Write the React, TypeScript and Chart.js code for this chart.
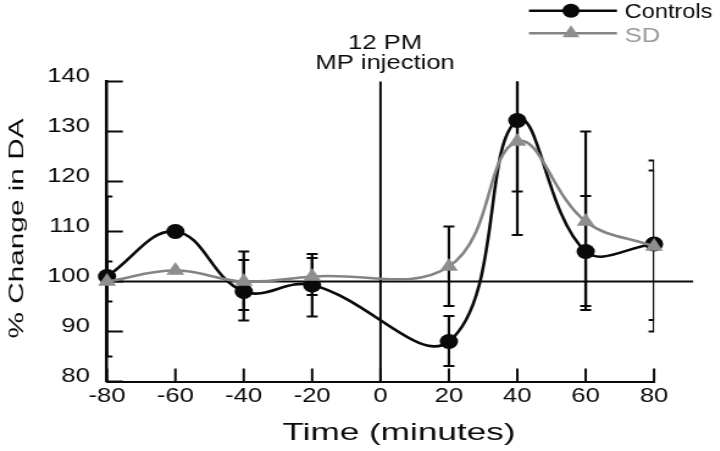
import React, { useEffect, useRef } from 'react';
import { Chart, registerables } from 'chart.js';

Chart.register(...registerables);

// ---- data ----
const timePoints = [-80, -60, -40, -20, 20, 40, 60, 80];
const controlsValues = [101, 110, 98, 99.3, 88, 132.2, 106, 107.5];
const controlsLow = [85, null, 92.2, 93, 83.1, 118, 95.1, 90];
const controlsHigh = [117, null, 106, 105.5, 93.1, 146, 117.1, 124.2];
const sdValues = [100, 102.2, 100, 101, 103, 128, 112, 107];
const sdLow = [96, null, 94.3, 97.3, 95.1, 109.3, 94.3, 92.3];
const sdHigh = [104, null, 104.3, 104.7, 111, 147, 130, 122.2];
const baselineValue = 100;
const injectionTime = 0;
const seriesNames = ['Controls', 'SD'];
const annotationLines = ['12 PM', 'MP injection'];
const xTitle = 'Time (minutes)';
const yTitle = '% Change in DA';

// ---- layout (internal canvas coordinates; canvas is stretched horizontally) ----
const STRETCH = 1.22;
const W = 590;
const H = 451;
const FONT = '"Liberation Sans", Arial, Helvetica, sans-serif';
const BLACK = '#0a0a0a';
const GREY_LINE = '#848484';
const GREY_MARK = '#8e8e8e';
const GREY_TEXT = '#9a9a9a';

function drawText(ctx: CanvasRenderingContext2D, text: string, x: number, y: number, size: number, k: number, color: string, rotate = 0, align: CanvasTextAlign = 'center') {
  ctx.save();
  ctx.translate(x, y);
  if (rotate) ctx.rotate(rotate);
  ctx.scale(k, 1);
  ctx.font = `${size}px ${FONT}`;
  ctx.fillStyle = color;
  ctx.textAlign = align;
  ctx.textBaseline = 'alphabetic';
  ctx.fillText(text, 0, 0);
  ctx.restore();
}

function line(ctx: CanvasRenderingContext2D, x1: number, y1: number, x2: number, y2: number) {
  ctx.beginPath();
  ctx.moveTo(x1, y1);
  ctx.lineTo(x2, y2);
  ctx.stroke();
}

const decorPlugin = {
  id: 'decor',
  beforeDatasetsDraw(chart: any) {
    const { ctx, chartArea: ca, scales } = chart;
    const x = scales.x;
    const y = scales.y;
    ctx.save();
    ctx.strokeStyle = BLACK;
    ctx.lineCap = 'butt';
    // baseline at 100
    ctx.lineWidth = 2;
    const y100 = y.getPixelForValue(baselineValue);
    line(ctx, ca.left, y100, ca.right + 32, y100);
    // injection marker
    const x0 = x.getPixelForValue(injectionTime);
    ctx.lineWidth = 2;
    line(ctx, x0, ca.top, x0, ca.bottom);
    // inward tick marks
    ctx.lineWidth = 2;
    y.ticks.forEach((t: any) => {
      const py = y.getPixelForValue(t.value);
      line(ctx, ca.left, py, ca.left + 13, py);
    });
    x.ticks.forEach((t: any) => {
      const px = x.getPixelForValue(t.value);
      line(ctx, px, ca.bottom, px, ca.bottom - 13);
    });
    // error bars (clipped to plot area)
    ctx.beginPath();
    ctx.rect(ca.left, ca.top, ca.right - ca.left, ca.bottom - ca.top);
    ctx.clip();
    const cap = 4.5;
    const drawBars = (lo: (number | null)[], hi: (number | null)[]) => {
      timePoints.forEach((t, i) => {
        const l = lo[i];
        const h = hi[i];
        if (l == null || h == null) return;
        const px = x.getPixelForValue(t);
        const pl = y.getPixelForValue(l);
        const ph = y.getPixelForValue(h);
        ctx.lineWidth = 2.2;
        line(ctx, px, pl, px, ph);
        line(ctx, px - cap, pl, px + cap, pl);
        line(ctx, px - cap, ph, px + cap, ph);
      });
    };
    drawBars(controlsLow, controlsHigh);
    drawBars(sdLow, sdHigh);
    ctx.restore();
  },
  afterDraw(chart: any) {
    const { ctx } = chart;
    // annotation
    drawText(ctx, annotationLines[0], 315.6, 49.3, 21, 1, BLACK);
    drawText(ctx, annotationLines[1], 315.6, 69.3, 21, 1, BLACK);
    // axis titles
    drawText(ctx, xTitle, 327, 439.5, 24, 1.2, BLACK);
    drawText(ctx, yTitle, 18.5, 228.5, 17, 1.75, BLACK, -Math.PI / 2);
    // legend
    ctx.save();
    ctx.lineWidth = 2.6;
    ctx.strokeStyle = BLACK;
    line(ctx, 433.6, 10.7, 505.7, 10.7);
    ctx.fillStyle = BLACK;
    ctx.beginPath();
    ctx.arc(468, 10.7, 7, 0, Math.PI * 2);
    ctx.fill();
    ctx.strokeStyle = GREY_LINE;
    line(ctx, 433.6, 33.3, 505.7, 33.3);
    ctx.fillStyle = GREY_MARK;
    const r = 8;
    ctx.beginPath();
    ctx.moveTo(468, 33.3 - r);
    ctx.lineTo(468 + r * 0.866, 33.3 + r * 0.5);
    ctx.lineTo(468 - r * 0.866, 33.3 + r * 0.5);
    ctx.closePath();
    ctx.fill();
    ctx.restore();
    drawText(ctx, seriesNames[0], 512, 18.3, 21, 0.92, BLACK, 0, 'left');
    drawText(ctx, seriesNames[1], 512, 41.7, 21, 1, GREY_TEXT, 0, 'left');
  },
};

export default function App() {
  const canvasRef = useRef<HTMLCanvasElement | null>(null);

  useEffect(() => {
    const canvas = canvasRef.current;
    if (!canvas) return;
    const chart = new Chart(canvas, {
      type: 'line',
      data: {
        datasets: [
          {
            label: seriesNames[1],
            data: timePoints.map((t, i) => ({ x: t, y: sdValues[i] })),
            borderColor: GREY_LINE,
            backgroundColor: GREY_MARK,
            borderWidth: 2.6,
            pointStyle: 'triangle',
            pointRadius: 8.5,
            pointBorderWidth: 0,
            pointBackgroundColor: GREY_MARK,
            pointBorderColor: GREY_MARK,
            tension: 0.4,
            clip: false as any,
            order: 1,
          },
          {
            label: seriesNames[0],
            data: timePoints.map((t, i) => ({ x: t, y: controlsValues[i] })),
            borderColor: BLACK,
            backgroundColor: BLACK,
            borderWidth: 2.6,
            pointStyle: 'circle',
            pointRadius: 7.5,
            pointBorderWidth: 0,
            pointBackgroundColor: BLACK,
            pointBorderColor: BLACK,
            tension: 0.4,
            clip: false as any,
            order: 2,
          },
        ],
      },
      options: {
        responsive: false,
        maintainAspectRatio: false,
        animation: false,
        devicePixelRatio: 1,
        events: [],
        layout: { padding: { left: 0, right: W - 536.1, top: 81.5, bottom: 0 } },
        plugins: {
          legend: { display: false },
          tooltip: { enabled: false },
          title: { display: false },
        },
        scales: {
          x: {
            type: 'linear',
            min: -80,
            max: 80,
            grid: { display: false, drawTicks: false },
            border: { display: true, color: BLACK, width: 2 },
            ticks: {
              stepSize: 20,
              padding: 2,
              color: BLACK,
              font: { family: FONT, size: 21 },
              maxRotation: 0,
              autoSkip: false,
            },
            afterFit: (s: any) => {
              s.height = H - 381.5;
            },
          },
          y: {
            type: 'linear',
            min: 80,
            max: 140,
            grid: { display: false, drawTicks: false },
            border: { display: true, color: BLACK, width: 2.5 },
            ticks: {
              stepSize: 10,
              padding: 14,
              labelOffset: -5,
              color: BLACK,
              font: { family: FONT, size: 21 },
            },
            afterFit: (s: any) => {
              s.width = 87.7;
            },
          },
        },
      },
      plugins: [decorPlugin],
    });
    return () => chart.destroy();
  }, []);

  return (
    <div
      style={{
        position: 'absolute',
        left: 0,
        top: 0,
        width: 720,
        height: 451,
        overflow: 'hidden',
        background: '#ffffff',
      }}
    >
      <canvas
        ref={canvasRef}
        width={W}
        height={H}
        style={{
          width: `${W}px`,
          height: `${H}px`,
          display: 'block',
          transform: `scaleX(${STRETCH})`,
          transformOrigin: '0 0',
        }}
      />
    </div>
  );
}
